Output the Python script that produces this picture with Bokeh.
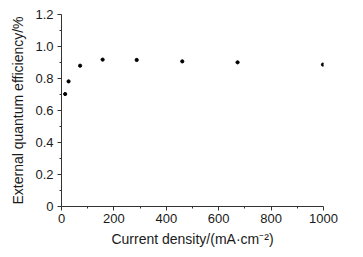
from bokeh.plotting import figure
from bokeh.models import FixedTicker, Range1d
from bokeh.embed import file_html
from bokeh.resources import INLINE

current_density = [14, 27, 71, 157, 287, 461, 672, 998]
eqe = [0.703, 0.782, 0.880, 0.918, 0.916, 0.907, 0.901, 0.887]
x_ticks = [0, 200, 400, 600, 800, 1000]
y_ticks = [0, 0.2, 0.4, 0.6, 0.8, 1.0, 1.2]
y_labels = {0: "0", 0.2: "0.2", 0.4: "0.4", 0.6: "0.6", 0.8: "0.8", 1.0: "1.0", 1.2: "1.2"}

p = figure(width=363, height=257, output_backend="svg", toolbar_location=None,
           x_range=Range1d(0, 1000), y_range=Range1d(0, 1.2),
           min_border_left=61, min_border_right=40, min_border_top=14, min_border_bottom=51)
p.outline_line_color = None
p.xgrid.visible = False
p.ygrid.visible = False
p.background_fill_color = "white"

p.scatter(current_density, eqe, marker="circle", size=3.2, color="black")

font = "Liberation Sans"
p.xaxis.ticker = FixedTicker(ticks=x_ticks, minor_ticks=[100, 300, 500, 700, 900])
p.yaxis.ticker = FixedTicker(ticks=y_ticks, minor_ticks=[0.1, 0.3, 0.5, 0.7, 0.9, 1.1])
p.yaxis.major_label_overrides = y_labels
p.xaxis.axis_label = "Current density/(mA·cm⁻²)"
p.yaxis.axis_label = "External quantum efficiency/%"
for ax in (p.xaxis, p.yaxis):
    ax.axis_line_color = "#333333"
    ax.major_tick_line_color = "#333333"
    ax.minor_tick_line_color = "#333333"
    ax.major_tick_out = 4
    ax.major_tick_in = 0
    ax.minor_tick_out = 2
    ax.minor_tick_in = 0
    ax.major_label_text_font = font
    ax.major_label_text_font_size = "13px"
    ax.major_label_text_color = "#1a1a1a"
    ax.axis_label_text_font = font
    ax.axis_label_text_font_size = "14px"
    ax.axis_label_text_font_style = "normal"
    ax.axis_label_text_color = "#1a1a1a"
p.xaxis.major_label_standoff = 3
p.yaxis.major_label_standoff = 4
p.xaxis.axis_label_standoff = 5
p.yaxis.axis_label_standoff = 6

open("out.html", "w").write(file_html(p, INLINE))
